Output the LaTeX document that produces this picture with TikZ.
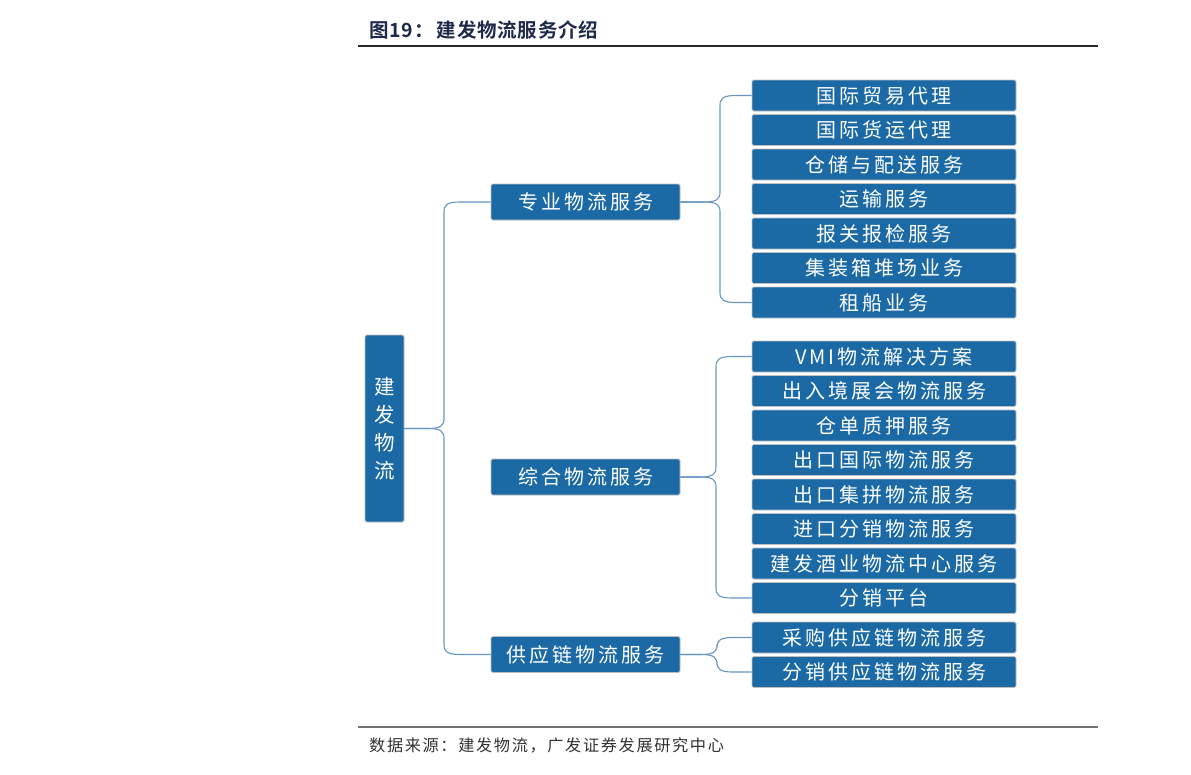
\documentclass[tikz,border=0pt]{standalone}
\usepackage{fontspec}
\newfontfamily\cjk[LetterSpace=15]{Noto Sans CJK SC}
\newfontfamily\cjktitle[LetterSpace=4]{Noto Sans CJK SC Bold}
\newfontfamily\cjkfoot[LetterSpace=10]{Noto Sans CJK SC}
\usetikzlibrary{calc}
\definecolor{boxblue}{HTML}{1B69A5}
\definecolor{linkblue}{HTML}{6595C0}
\definecolor{titlenavy}{HTML}{1E2A4A}
\definecolor{footgray}{HTML}{333333}
\tikzset{
  base/.style={draw=black!25, line width=0.8pt, fill=boxblue, text=white, rounded corners=1.5pt, inner sep=0pt},
  leafbox/.style={base, minimum width=264pt, minimum height=31pt, font=\cjk\fontsize{20}{20}\selectfont},
  midbox/.style={base, minimum width=189pt, minimum height=36pt, font=\cjk\fontsize{20}{20}\selectfont},
  rootbox/.style={base, minimum width=39pt, minimum height=187pt, font=\cjk\fontsize{20.5}{28}\selectfont, align=center},
  conn/.style={draw=linkblue, line width=1.1pt},
}
\newcommand\braceup[3]{%
  \draw[conn] (#1.east) -- ($(#3 |- #1.east)+(-16,0)$)
    .. controls ($(#3 |- #1.east)+(-3,0)$) and ($(#3 |- #1.east)+(0,3)$) .. ($(#3 |- #1.east)+(0,10)$)
    -- ($(#3 |- #2.west)+(0,-10)$)
    .. controls ($(#3 |- #2.west)+(0,-3)$) and ($(#3 |- #2.west)+(3,0)$) .. ($(#3 |- #2.west)+(16,0)$)
    -- (#2.west);}
\newcommand\bracedown[3]{%
  \draw[conn] (#1.east) -- ($(#3 |- #1.east)+(-16,0)$)
    .. controls ($(#3 |- #1.east)+(-3,0)$) and ($(#3 |- #1.east)+(0,-3)$) .. ($(#3 |- #1.east)+(0,-10)$)
    -- ($(#3 |- #2.west)+(0,10)$)
    .. controls ($(#3 |- #2.west)+(0,3)$) and ($(#3 |- #2.west)+(3,0)$) .. ($(#3 |- #2.west)+(16,0)$)
    -- (#2.west);}
\begin{document}
\begin{tikzpicture}[x=1pt,y=1pt]
\useasboundingbox (0,0) rectangle (1191,-774);
% title and rules
\node[anchor=west, text=titlenavy, font=\cjktitle\fontsize{19.5}{19.5}\selectfont, inner sep=0pt] (title) at (369,-30) {图19：\,建发物流服务介绍};
\coordinate (tl) at (358,-46); \coordinate (tr) at (1098,-46);
\draw[line width=1.3pt, draw=black!85] (tl) -- (tr);
\coordinate (fl) at (358,-727); \coordinate (fr) at (1098,-727);
\draw[line width=1.5pt, draw=black!55] (fl) -- (fr);
\node[anchor=west, text=footgray, font=\cjkfoot\fontsize{16.2}{16.2}\selectfont, inner sep=0pt] (foot) at (369,-745) {数据来源：建发物流，广发证券发展研究中心};
% root
\node[rootbox] (root) at (384.5,-428.5) {建\\发\\物\\流};
% level 2
\node[midbox] (g1) at (585.5,-202) {专业物流服务};
\node[midbox] (g2) at (585.5,-477) {综合物流服务};
\node[midbox] (g3) at (585.5,-654.5) {供应链物流服务};
% level 3
\node[leafbox] (a1) at (884,-95.5) {国际贸易代理};
\node[leafbox] (a2) at (884,-130) {国际货运代理};
\node[leafbox] (a3) at (884,-164.5) {仓储与配送服务};
\node[leafbox] (a4) at (884,-199) {运输服务};
\node[leafbox] (a5) at (884,-233.5) {报关报检服务};
\node[leafbox] (a6) at (884,-268) {集装箱堆场业务};
\node[leafbox] (a7) at (884,-302.5) {租船业务};
\node[leafbox] (b1) at (884,-356.5) {VMI物流解决方案};
\node[leafbox] (b2) at (884,-391) {出入境展会物流服务};
\node[leafbox] (b3) at (884,-425.5) {仓单质押服务};
\node[leafbox] (b4) at (884,-460) {出口国际物流服务};
\node[leafbox] (b5) at (884,-494.5) {出口集拼物流服务};
\node[leafbox] (b6) at (884,-529) {进口分销物流服务};
\node[leafbox] (b7) at (884,-563.5) {建发酒业物流中心服务};
\node[leafbox] (b8) at (884,-598) {分销平台};
\node[leafbox] (c1) at (884,-637.5) {采购供应链物流服务};
\node[leafbox] (c2) at (884,-672) {分销供应链物流服务};
% spines
\coordinate (s0) at (444,0);
\coordinate (s1) at (720,0);
\coordinate (s2) at (716,0);
\coordinate (s3) at (717,0);
\braceup{root}{g1}{s0}
\bracedown{root}{g3}{s0}
\braceup{g1}{a1}{s1}
\bracedown{g1}{a7}{s1}
\braceup{g2}{b1}{s2}
\bracedown{g2}{b8}{s2}
\braceup{g3}{c1}{s3}
\bracedown{g3}{c2}{s3}
\end{tikzpicture}
\end{document}
